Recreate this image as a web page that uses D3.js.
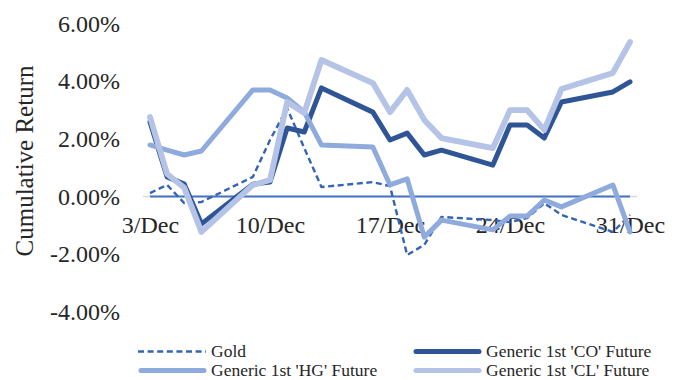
<!DOCTYPE html>
<html>
<head>
<meta charset="utf-8">
<script src="https://cdn.jsdelivr.net/npm/d3@7/dist/d3.min.js"></script>
<style>
  html, body { margin: 0; padding: 0; background: #fff; }
  svg { display: block; }
  text { font-family: "Liberation Serif", "Times New Roman", serif; fill: #262626; }
</style>
</head>
<body>
<svg id="chart" width="682" height="380"></svg>
<script>
// Trading days, December 2019
const dates = ["2019-12-03","2019-12-04","2019-12-05","2019-12-06","2019-12-09","2019-12-10",
  "2019-12-11","2019-12-12","2019-12-13","2019-12-16","2019-12-17","2019-12-18","2019-12-19",
  "2019-12-20","2019-12-23","2019-12-24","2019-12-25","2019-12-26","2019-12-27","2019-12-30","2019-12-31"];

// Cumulative returns in percent
const gold = [0.12, 0.40, -0.23, -0.19, 0.68, 1.96, 3.07, 1.68, 0.33, 0.50, 0.36, -2.03, -1.68,
  -0.71, -0.82, -0.89, -0.75, -0.23, -0.64, -1.23, -0.64];
const co = [2.59, 0.68, 0.43, -0.95, 0.43, 0.50, 2.38, 2.24, 3.77, 2.93, 1.96, 2.20, 1.44,
  1.61, 1.09, 2.48, 2.48, 2.03, 3.28, 3.63, 3.98];
const hg = [1.79, 1.61, 1.44, 1.58, 3.70, 3.70, 3.42, 2.93, 1.79, 1.72, 0.40, 0.61, -1.41,
  -0.82, -1.16, -0.68, -0.68, -0.12, -0.36, 0.40, -1.23];
const cl = [2.76, 0.78, 0.30, -1.23, 0.40, 0.57, 3.28, 2.90, 4.74, 3.94, 2.93, 3.70, 2.66,
  2.03, 1.68, 3.00, 3.00, 2.31, 3.73, 4.29, 5.36];

const yTicks = [-4, -2, 0, 2, 4, 6];
const xTicks = ["2019-12-03","2019-12-10","2019-12-17","2019-12-24","2019-12-31"];

const seriesNames = ["Gold", "Generic 1st 'CO' Future", "Generic 1st 'HG' Future", "Generic 1st 'CL' Future"];

const parse = d3.utcParse("%Y-%m-%d");
const days = dates.map(parse);

const svg = d3.select("#chart");

const x = d3.scaleUtc()
  .domain([parse(dates[0]), parse(dates[dates.length - 1])])
  .range([150, 630]);
const y = d3.scaleLinear().domain([-4, 6]).range([311.7, 23.7]);

const series = [
  { name: seriesNames[0], values: gold, color: "#3464B4", width: 2.4, dash: "6,3.6" },
  { name: seriesNames[1], values: co, color: "#2F5597", width: 5, dash: null },
  { name: seriesNames[2], values: hg, color: "#8FAADC", width: 5, dash: null },
  { name: seriesNames[3], values: cl, color: "#B4C3E6", width: 5.8, dash: null }
];

// Horizontal axis line at zero
svg.append("line")
  .attr("x1", x.range()[0] - 7).attr("x2", x.range()[1] + 7)
  .attr("y1", y(0)).attr("y2", y(0))
  .attr("stroke", "#d9d9d9").attr("stroke-width", 1.5);
svg.append("line")
  .attr("x1", x(days[0])).attr("x2", x(days[days.length - 1]))
  .attr("y1", y(0)).attr("y2", y(0))
  .attr("stroke", "#4472C4").attr("stroke-width", 2);

// Y axis tick labels (plain hyphen for negatives)
const pct = d => (d < 0 ? "-" : "") + Math.abs(d).toFixed(2) + "%";
const yAxis = d3.axisLeft(y).tickValues(yTicks).tickFormat(pct).tickSize(0).tickPadding(0);
const gy = svg.append("g").attr("transform", "translate(120,0)").call(yAxis);
gy.select(".domain").remove();
gy.selectAll("text").attr("font-size", 24).attr("fill", "#262626")
  .attr("font-family", "Liberation Serif, Times New Roman, serif");

// X axis tick labels, sitting below the zero line
const fmt = d3.utcFormat("%-d/%b");
const xAxis = d3.axisBottom(x).tickValues(xTicks.map(parse)).tickFormat(fmt).tickSize(0).tickPadding(0);
const gx = svg.append("g").attr("transform", `translate(0,${y(0)})`).call(xAxis);
gx.select(".domain").remove();
gx.selectAll("text").attr("font-size", 24).attr("fill", "#262626")
  .attr("font-family", "Liberation Serif, Times New Roman, serif")
  .attr("dy", null).attr("y", 36);

// Axis title
svg.append("text")
  .attr("transform", "translate(33,161) rotate(-90)")
  .attr("text-anchor", "middle")
  .attr("font-size", 25)
  .text("Cumulative Return");

// Series lines
const line = d3.line().x((d, i) => x(days[i])).y(d => y(d));
series.forEach(s => {
  svg.append("path")
    .datum(s.values)
    .attr("d", line)
    .attr("fill", "none")
    .attr("stroke", s.color)
    .attr("stroke-width", s.width)
    .attr("stroke-linejoin", "round")
    .attr("stroke-linecap", s.dash ? "butt" : "round")
    .attr("stroke-dasharray", s.dash);
});

// Legend, two columns by two rows
const legendPos = [
  { x: 138, y: 351.5 }, { x: 413, y: 351.5 },
  { x: 138, y: 370.5 }, { x: 413, y: 370.5 }
];
series.forEach((s, i) => {
  const p = legendPos[i];
  const g = svg.append("g").attr("transform", `translate(${p.x},${p.y})`);
  g.append("line")
    .attr("x1", s.dash ? 0 : 3).attr("x2", s.dash ? 68 : 66)
    .attr("y1", 0).attr("y2", 0)
    .attr("stroke", s.color)
    .attr("stroke-width", s.dash ? 2.4 : 5)
    .attr("stroke-linecap", s.dash ? "butt" : "round")
    .attr("stroke-dasharray", s.dash);
  g.append("text")
    .attr("x", 73).attr("y", 0).attr("dy", "0.33em")
    .attr("font-size", 17.5)
    .text(s.name);
});
</script>
</body>
</html>
